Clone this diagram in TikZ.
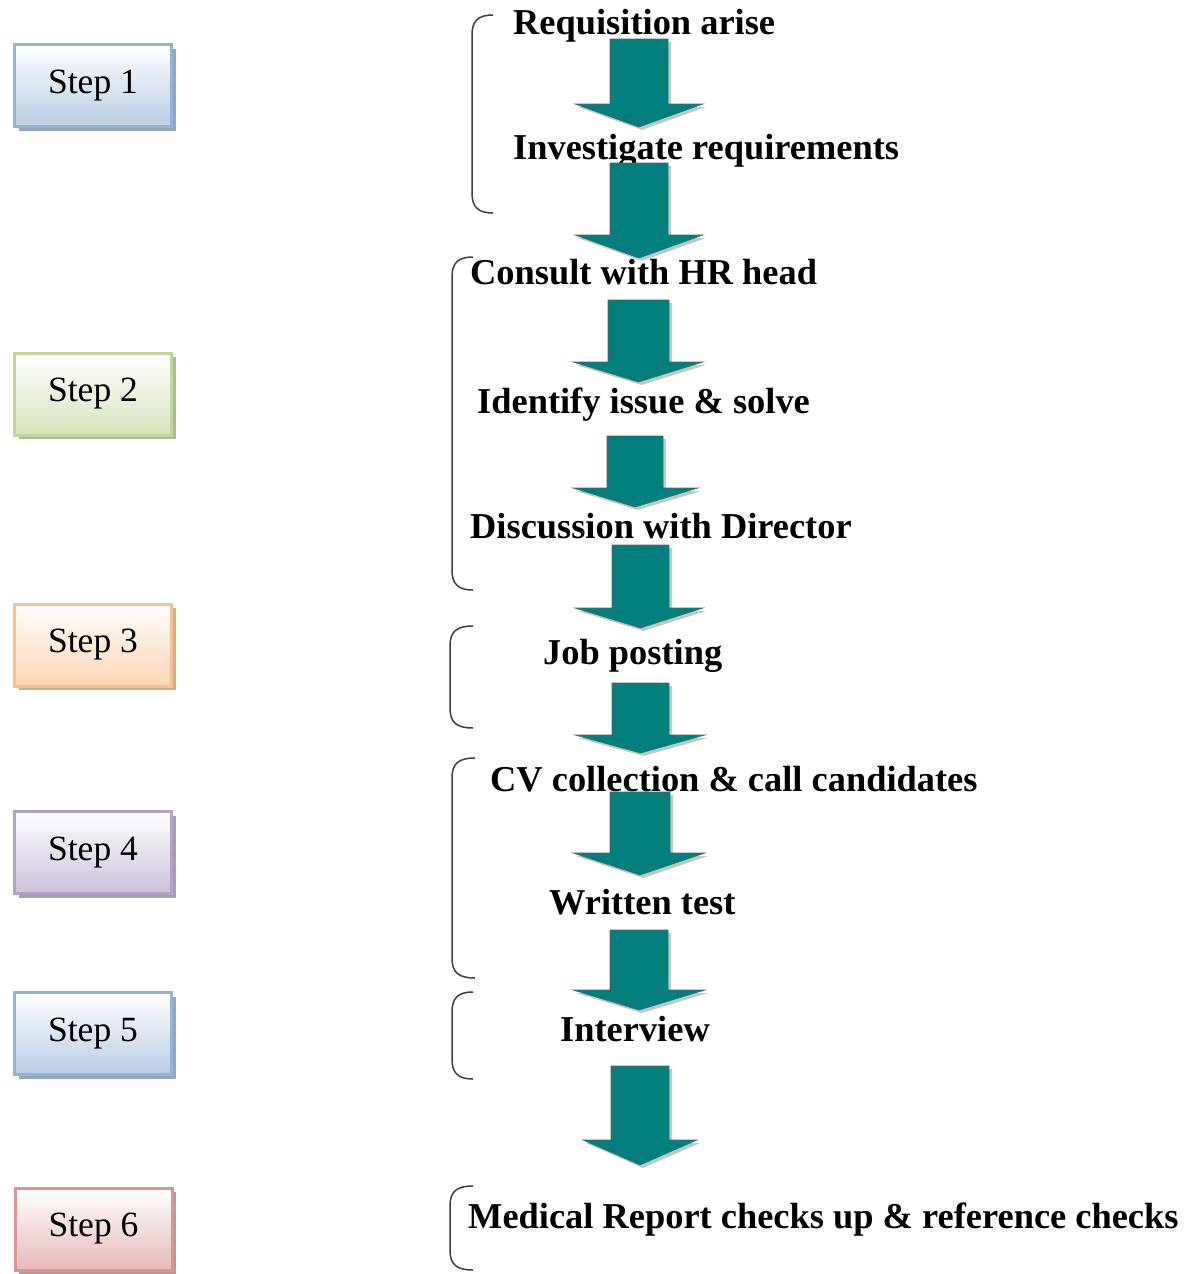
\documentclass[tikz,border=0pt]{standalone}
\usepackage{fontspec}
\setmainfont{Liberation Serif}
\usetikzlibrary{shadows}
\definecolor{blueB}{HTML}{95B3D7}\definecolor{blueF}{HTML}{B9CDE5}
\definecolor{greenB}{HTML}{C3D69B}\definecolor{greenF}{HTML}{D7E4BD}
\definecolor{orangeB}{HTML}{FAC090}\definecolor{orangeF}{HTML}{FCD5B5}
\definecolor{purpleB}{HTML}{B3A2C7}\definecolor{purpleF}{HTML}{CCC1DA}
\definecolor{redB}{HTML}{D99694}\definecolor{redF}{HTML}{E6B9B8}
\definecolor{arrteal}{HTML}{007F7D}
\definecolor{arredge}{HTML}{3A6E6E}
\definecolor{brkcol}{HTML}{404040}
\tikzset{
  stepbox/.style 2 args={draw=#1, line width=3pt, top color=white, bottom color=#2,
    minimum width=157pt, minimum height=82pt, inner sep=0pt,
    font=\fontsize{35.5}{40}\selectfont,
    drop shadow={shadow xshift=4pt, shadow yshift=-4pt, fill=#1!60!gray, opacity=0.9}},
  lbl/.style={anchor=base west, inner sep=0pt, font=\fontsize{36.4}{40}\selectfont\bfseries},
  arrbody/.style={fill=arrteal, draw=arredge, line width=0.6pt},
  arrshadow/.style={fill=gray!45},
  brk/.style={draw=brkcol, line width=1.5pt}
}
\newcommand\blockarr[7]{%
  \fill[arrshadow, shift={(3,3)}] (#1,#5) -- (#2,#5) -- (#2,#6) -- (#4,#6) -- ({(#1+#2)/2},#7) -- (#3,#6) -- (#1,#6) -- cycle;
  \filldraw[arrbody] (#1,#5) -- (#2,#5) -- (#2,#6) -- (#4,#6) -- ({(#1+#2)/2},#7) -- (#3,#6) -- (#1,#6) -- cycle;
}
\newcommand\brkt[4]{%
  \draw[brk] (#1,#3) .. controls ({#2+6},#3) and (#2,{#3+6}) .. (#2,{#3+20}) -- (#2,{#4-20}) .. controls (#2,{#4-6}) and ({#2+6},#4) .. (#1,#4);
}
\begin{document}
\begin{tikzpicture}[x=1pt,y=-1pt]
\useasboundingbox[fill=white] (0,0) rectangle (1191,1274);
% step boxes
\node[stepbox={blueB}{blueF}] (s1) at (93,85.5) {Step 1};
\node[stepbox={greenB}{greenF}] (s2) at (93,394) {Step 2};
\node[stepbox={orangeB}{orangeF}] (s3) at (93,645) {Step 3};
\node[stepbox={purpleB}{purpleF}] (s4) at (93,852.5) {Step 4};
\node[stepbox={blueB}{blueF}] (s5) at (93,1033.5) {Step 5};
\node[stepbox={redB}{redF}] (s6) at (93.5,1229) {Step 6};
% braces
\brkt{493}{472}{15}{213}
\brkt{473}{452}{257}{590}
\brkt{473}{450}{626}{728}
\brkt{475}{452}{758}{978}
\brkt{473}{452}{992}{1079}
\brkt{473}{450}{1186}{1270}
% labels
\node[lbl] (l1) at (513,34) {Requisition arise};
\node[lbl] (l2) at (513,159) {Investigate requirements};
\node[lbl] (l3) at (470,284) {Consult with HR head};
\node[lbl] (l4) at (477,413) {Identify issue \& solve};
\node[lbl] (l5) at (470,538) {Discussion with Director};
\node[lbl] (l6) at (543,664) {Job posting};
\node[lbl] (l7) at (490,791) {CV collection \& call candidates};
\node[lbl] (l8) at (549,914) {Written test};
\node[lbl] (l9) at (560,1041) {Interview};
\node[lbl] (l10) at (468,1228) {Medical Report checks up \& reference checks};
% block arrows
\blockarr{610}{668}{575}{703}{39}{104}{127}
\blockarr{610}{668}{575}{703}{163}{235}{258}
\blockarr{608}{669}{573}{703}{300}{362}{382}
\blockarr{607}{663}{573}{698}{436}{488}{507}
\blockarr{612}{669}{575}{703}{545}{608}{628}
\blockarr{612}{669}{575}{705}{683}{735}{753}
\blockarr{610}{670}{573}{705}{792}{853}{875}
\blockarr{610}{668}{573}{705}{930}{990}{1010}
\blockarr{611}{669}{583}{697}{1066}{1140}{1165}
\end{tikzpicture}
\end{document}
